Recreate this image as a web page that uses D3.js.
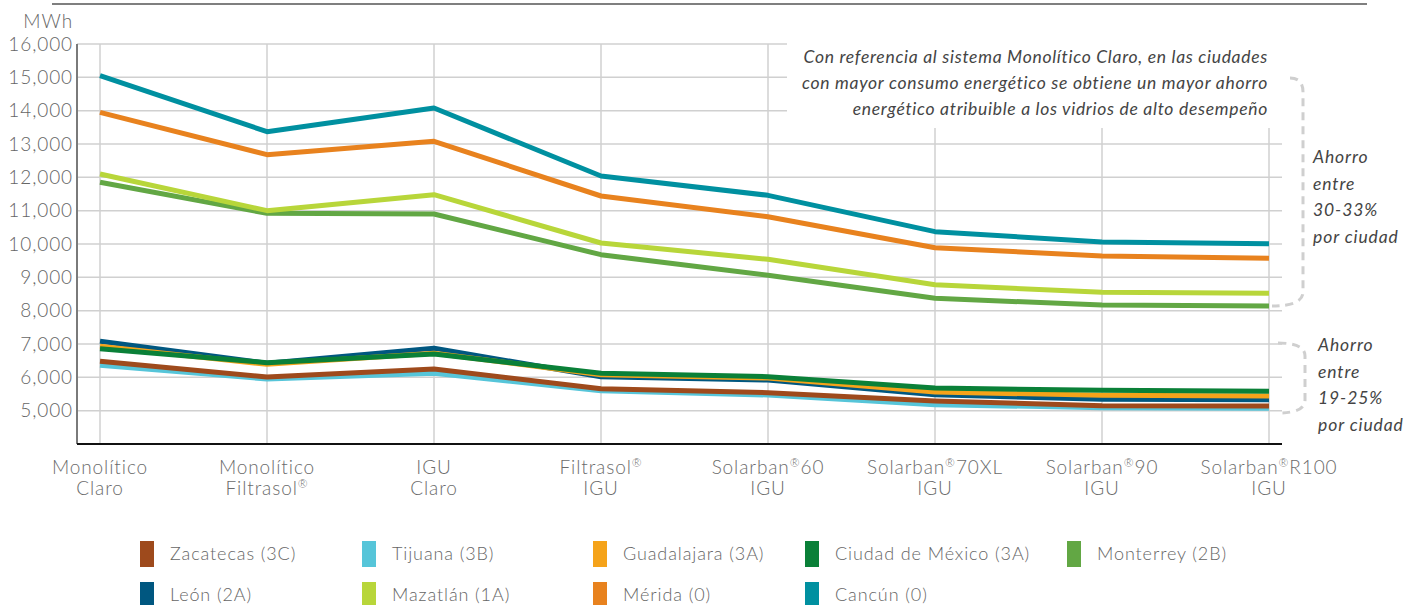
<!DOCTYPE html>
<html><head><meta charset="utf-8">
<script src="https://cdn.jsdelivr.net/npm/d3@7"></script>
<style>
body{margin:0;background:#fff;}
text{font-family:Lato,"Open Sans",sans-serif;}
</style></head>
<body><svg id="c" width="1413" height="605"></svg>
<script>
const categories = [["Monolítico","Claro"],["Monolítico","Filtrasol®"],["IGU","Claro"],["Filtrasol®","IGU"],["Solarban®60","IGU"],["Solarban®70XL","IGU"],["Solarban®90","IGU"],["Solarban®R100","IGU"]];
const yTicks = [5000,6000,7000,8000,9000,10000,11000,12000,13000,14000,15000,16000];
const cityNames = ["Zacatecas (3C)","Tijuana (3B)","Guadalajara (3A)","Ciudad de México (3A)","Monterrey (2B)","León (2A)","Mazatlán (1A)","Mérida (0)","Cancún (0)"];
const cityColors = ["#9e4a1c","#56c5d9","#f5a31a","#0a8038","#62a744","#005780","#b8d63a","#e8821e","#0090a0"];
const zacatecas = [6480,6010,6250,5660,5540,5290,5150,5140];
const tijuana   = [6360,5950,6120,5600,5470,5180,5090,5070];
const guadalajara = [6930,6390,6720,6080,5980,5560,5460,5440];
const cdmx      = [6860,6440,6700,6120,6020,5680,5610,5580];
const monterrey = [11850,10920,10900,9680,9060,8370,8170,8140];
const leon      = [7080,6420,6870,6020,5920,5480,5340,5330];
const mazatlan  = [12100,11000,11480,10030,9540,8780,8550,8520];
const merida    = [13950,12680,13080,11440,10820,9890,9640,9570];
const cancun    = [15050,13370,14080,12040,11460,10370,10060,10010];
const seriesValues = [zacatecas,tijuana,guadalajara,cdmx,monterrey,leon,mazatlan,merida,cancun];
const drawOrder = [1,0,5,2,3,4,6,7,8];
const annotation = ["Con referencia al sistema Monolítico Claro, en las ciudades","con mayor consumo energético se obtiene un mayor ahorro","energético atribuible a los vidrios de alto desempeño"];
const note1 = ["Ahorro","entre","30-33%","por ciudad"];
const note2 = ["Ahorro","entre","19-25%","por ciudad"];

const svg = d3.select("#c");
const x = d3.scalePoint().domain(d3.range(categories.length)).range([100,1269]);
const y = d3.scaleLinear().domain([4000,16000]).range([444,44]);
const xL = 77, xR = 1282;

// top rule
svg.append("line").attr("x1",52).attr("x2",1367).attr("y1",4).attr("y2",4).attr("stroke","#555").attr("stroke-width",1.5);

// horizontal grid
svg.append("g").selectAll("line").data(yTicks).join("line")
  .attr("x1",xL).attr("x2",xR).attr("y1",d=>y(d)).attr("y2",d=>y(d))
  .attr("stroke","#d0d0d0").attr("stroke-width",1.5);
// vertical grid
svg.append("g").selectAll("line").data(d3.range(categories.length)).join("line")
  .attr("x1",d=>x(d)).attr("x2",d=>x(d)).attr("y1",y(16000)).attr("y2",y(4000))
  .attr("stroke","#d0d0d0").attr("stroke-width",1.5);

// annotation backdrop
svg.append("rect").attr("x",787).attr("y",38).attr("width",520).attr("height",90).attr("fill","#fff");

// axes lines
svg.append("line").attr("x1",xL).attr("x2",xL).attr("y1",y(16000)).attr("y2",y(4000)).attr("stroke","#7a7a7a").attr("stroke-width",2);
svg.append("line").attr("x1",xL).attr("x2",xR).attr("y1",y(4000)).attr("y2",y(4000)).attr("stroke","#111").attr("stroke-width",2);

// y labels
svg.append("g").selectAll("text").data(yTicks).join("text")
  .attr("x",73).attr("y",d=>y(d)).attr("dy","0.35em").attr("text-anchor","end")
  .attr("font-size",19).attr("font-weight",300).attr("letter-spacing",0.9).attr("fill","#666")
  .text(d=>d3.format(",")(d));
svg.append("text").attr("x",73).attr("y",21).attr("dy","0.35em").attr("text-anchor","end")
  .attr("font-size",19).attr("font-weight",300).attr("letter-spacing",0.9).attr("fill","#666").text("MWh");

// x labels with superscript ®
function addRich(t, str, size){
  const parts = str.split("®");
  let shift = 0;
  parts.forEach((p,i)=>{
    if(p){
      const ts = t.append("tspan").text(p);
      if(shift){ ts.attr("dy",shift); shift = 0; }
    }
    if(i<parts.length-1){
      t.append("tspan").attr("font-size",size*0.62).attr("dy",-size*0.38).text("®");
      shift = size*0.38;
    }
  });
}
const xg = svg.append("g");
categories.forEach((c,i)=>{
  c.forEach((line,j)=>{
    const t = xg.append("text").attr("x",x(i)).attr("y",474+j*21)
      .attr("text-anchor","middle").attr("font-size",19).attr("font-weight",300)
      .attr("letter-spacing",0.9).attr("fill","#6b6b6b");
    addRich(t,line,19);
  });
});

// lines
const lineGen = d3.line().x((d,i)=>x(i)).y(d=>y(d)).curve(d3.curveLinear);
svg.append("g").selectAll("path").data(drawOrder).join("path")
  .attr("d",k=>lineGen(seriesValues[k]))
  .attr("fill","none").attr("stroke",k=>cityColors[k]).attr("stroke-width",5)
  .attr("stroke-linejoin","round").attr("stroke-linecap","butt");

// annotation text
svg.append("g").selectAll("text").data(annotation).join("text")
  .attr("x",1268).attr("y",(d,i)=>63+i*26).attr("text-anchor","end")
  .attr("font-size",17.5).attr("font-style","italic").attr("letter-spacing",0.7).attr("fill","#444").text(d=>d);

// brackets
const br = svg.append("g").attr("fill","none").attr("stroke","#cfcfcf").attr("stroke-width",3).attr("stroke-dasharray","8,6");
br.append("path").attr("d","M1290,78 Q1303,78 1303,92 L1303,292 Q1303,306 1272,306");
br.append("path").attr("d","M1278,343 Q1305,343 1305,356 L1305,400 Q1305,413 1278,413");

svg.append("g").selectAll("text").data(note1).join("text")
  .attr("x",1313).attr("y",(d,i)=>163+i*26.5).attr("font-size",17.5).attr("font-style","italic").attr("letter-spacing",0.9).attr("fill","#444").text(d=>d);
svg.append("g").selectAll("text").data(note2).join("text")
  .attr("x",1318).attr("y",(d,i)=>351+i*26.5).attr("font-size",17.5).attr("font-style","italic").attr("letter-spacing",0.9).attr("fill","#444").text(d=>d);

// legend
const legX = [140,362,593,805,1067];
const lg = svg.append("g");
cityNames.forEach((n,i)=>{
  const col = i%5, row = Math.floor(i/5);
  const gx = legX[col], gy = 554 + row*41;
  lg.append("rect").attr("x",gx).attr("y",gy-13).attr("width",14).attr("height",26).attr("fill",cityColors[i]);
  lg.append("text").attr("x",gx+30).attr("y",gy).attr("dy","0.35em").attr("font-size",18).attr("font-weight",300)
    .attr("letter-spacing",0.9).attr("fill","#666").text(n);
});
</script></body></html>
